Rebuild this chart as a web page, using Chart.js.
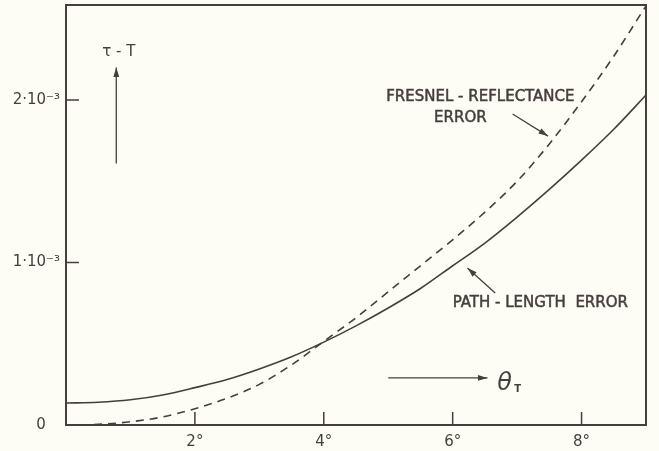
<!DOCTYPE html>
<html>
<head>
<meta charset="utf-8">
<script src="https://cdn.jsdelivr.net/npm/chart.js@4.4.1/dist/chart.umd.min.js"></script>
<style>
  html, body { margin: 0; padding: 0; background: #fdfdf6; }
  #wrap { width: 659px; height: 451px; position: relative; }
</style>
</head>
<body>
<div id="wrap"><canvas id="errChart" width="659" height="451"></canvas></div>
<script>
// angle of transmission, degrees
const thetaDeg = [0, 0.5, 1, 1.5, 2, 2.5, 3, 3.5, 4, 4.5, 5, 5.5, 6, 6.5, 7, 7.5, 8, 8.5, 9];
// tau - T, in units of 1e-3
const pathLengthErr = [0.135, 0.14, 0.155, 0.185, 0.23, 0.28, 0.345, 0.42, 0.51, 0.61, 0.72, 0.84, 0.98, 1.12, 1.28, 1.45, 1.63, 1.82, 2.03];
const fresnelErr = [0, 0.004, 0.02, 0.05, 0.1, 0.165, 0.25, 0.37, 0.515, 0.66, 0.82, 0.98, 1.14, 1.31, 1.5, 1.73, 1.99, 2.27, 2.58];

const xTicks = [2, 4, 6, 8];
const xTickLabels = ["2°", "4°", "6°", "8°"];
const yTicks = [0, 1, 2];
const yTickLabels = ["0   ", "1·10⁻³", "2·10⁻³"];

const ink = "#463e3e";
const font = '"DejaVu Sans", sans-serif';

function pts(ys) {
  return thetaDeg.map((t, i) => ({ x: t, y: ys[i] }));
}

// frame, inward tick marks and the hand-lettered notes
const decorations = {
  id: "decorations",
  afterDraw(chart) {
    const { ctx, chartArea: a, scales: { x, y } } = chart;
    const X = v => x.getPixelForValue(v);
    const Y = v => y.getPixelForValue(v);
    ctx.save();
    ctx.strokeStyle = ink;
    ctx.fillStyle = ink;
    ctx.lineWidth = 2;
    ctx.strokeRect(a.left, a.top, a.right - a.left, a.bottom - a.top);

    ctx.lineWidth = 1.5;
    ctx.beginPath();
    xTicks.forEach(v => { ctx.moveTo(X(v), a.bottom); ctx.lineTo(X(v), a.bottom - 13); });
    yTicks.slice(1).forEach(v => { ctx.moveTo(a.left, Y(v)); ctx.lineTo(a.left + 13, Y(v)); });
    ctx.stroke();

    function arrow(x0, y0, x1, y1) {
      const ang = Math.atan2(y1 - y0, x1 - x0);
      ctx.lineWidth = 1.3;
      ctx.beginPath();
      ctx.moveTo(x0, y0);
      ctx.lineTo(x1, y1);
      ctx.stroke();
      ctx.beginPath();
      ctx.moveTo(x1, y1);
      ctx.lineTo(x1 - 10 * Math.cos(ang - 0.3), y1 - 10 * Math.sin(ang - 0.3));
      ctx.lineTo(x1 - 10 * Math.cos(ang + 0.3), y1 - 10 * Math.sin(ang + 0.3));
      ctx.closePath();
      ctx.fill();
    }

    // lettering: regular face, lightly stroked for a pen-drawn weight
    function letter(txt, px, py) {
      ctx.lineWidth = 0.5;
      ctx.fillText(txt, px, py);
      ctx.strokeText(txt, px, py);
    }

    ctx.textBaseline = "middle";
    ctx.textAlign = "center";
    ctx.font = "15px " + font;
    ctx.fillText("τ - T", X(0.82), Y(2.295));
    arrow(X(0.78), Y(1.61), X(0.78), Y(2.2));

    letter("FRESNEL - REFLECTANCE", X(6.43), Y(2.02));
    letter("ERROR", X(6.12), Y(1.89));
    arrow(X(6.93), Y(1.914), X(7.48), Y(1.778));

    letter("PATH - LENGTH  ERROR", X(7.36), Y(0.75));
    arrow(X(6.66), Y(0.812), X(6.23), Y(0.966));

    arrow(X(5.0), Y(0.29), X(6.54), Y(0.29));
    ctx.textAlign = "left";
    ctx.font = "italic 24px " + font;
    ctx.fillText("θ", X(6.69), Y(0.255));
    ctx.font = "bold 10px " + font;
    ctx.fillText("T", X(6.69) + 17, Y(0.22));
    ctx.restore();
  }
};

new Chart(document.getElementById("errChart"), {
  type: "line",
  data: {
    datasets: [
      {
        label: "path-length error",
        data: pts(pathLengthErr),
        borderColor: ink,
        borderWidth: 1.6,
        pointRadius: 0,
        cubicInterpolationMode: "monotone"
      },
      {
        label: "Fresnel-reflectance error",
        data: pts(fresnelErr),
        borderColor: ink,
        borderWidth: 1.6,
        borderDash: [8, 6],
        pointRadius: 0,
        cubicInterpolationMode: "monotone"
      }
    ]
  },
  options: {
    responsive: false,
    animation: false,
    layout: { padding: { top: 5, right: 13, left: 0, bottom: 0 } },
    plugins: { legend: { display: false }, tooltip: { enabled: false } },
    scales: {
      x: {
        type: "linear",
        min: 0,
        max: 9,
        grid: { display: false, drawTicks: false, tickLength: 0 },
        border: { display: false },
        afterBuildTicks: s => { s.ticks = xTicks.map(v => ({ value: v })); },
        afterFit: s => { s.height = 26; s.paddingLeft = 0; s.paddingRight = 0; },
        ticks: {
          color: ink,
          padding: 8,
          maxRotation: 0,
          font: { family: font, size: 15 },
          callback: v => xTickLabels[xTicks.indexOf(v)]
        }
      },
      y: {
        type: "linear",
        min: 0,
        max: 2.585,
        grid: { display: false, drawTicks: false, tickLength: 0 },
        border: { display: false },
        afterBuildTicks: s => { s.ticks = yTicks.map(v => ({ value: v })); },
        afterFit: s => { s.width = 66; s.paddingTop = 0; s.paddingBottom = 0; },
        ticks: {
          color: ink,
          padding: 6,
          font: { family: font, size: 15 },
          callback: v => yTickLabels[yTicks.indexOf(v)]
        }
      }
    }
  },
  plugins: [decorations]
});
</script>
</body>
</html>
